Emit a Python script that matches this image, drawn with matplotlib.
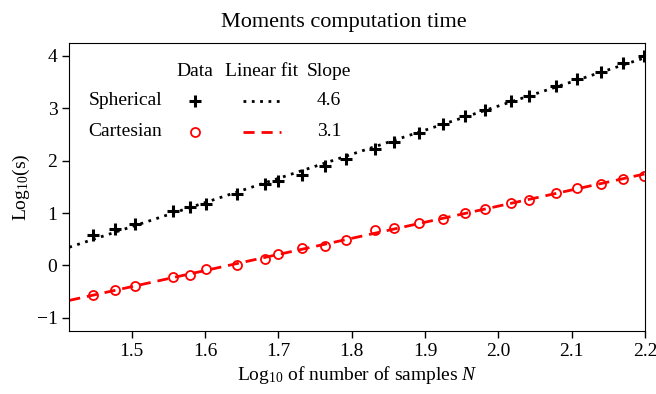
import numpy as np
import matplotlib
matplotlib.use("Agg")
import matplotlib.pyplot as plt

plt.rcParams['font.family'] = ['Liberation Serif', 'DejaVu Serif']
plt.rcParams['mathtext.fontset'] = 'custom'
plt.rcParams['mathtext.rm'] = 'Liberation Serif'
plt.rcParams['mathtext.it'] = 'Liberation Serif:italic'

# Number of samples N (x = log10 N)
n_samples = [28, 30, 32, 36, 38, 40, 44, 48, 50, 54, 58, 62, 68, 72, 78, 84,
             90, 96, 104, 110, 120, 128, 138, 148, 158]
# log10 of computation time (s)
spherical = [0.586, 0.700, 0.796, 1.031, 1.115, 1.172, 1.368, 1.559, 1.612,
             1.731, 1.903, 2.031, 2.227, 2.366, 2.538, 2.698, 2.844, 2.971,
             3.130, 3.239, 3.429, 3.557, 3.702, 3.863, 3.989]
cartesian = [-0.573, -0.477, -0.401, -0.221, -0.177, -0.069, 0.013, 0.128,
             0.223, 0.332, 0.376, 0.477, 0.668, 0.714, 0.809, 0.891, 1.000,
             1.082, 1.191, 1.254, 1.382, 1.477, 1.559, 1.649, 1.712]
row_labels = ["Spherical", "Cartesian"]
slope_labels = ["4.6", "3.1"]
col_headers = ["Data", "Linear fit", "Slope"]

x = np.log10(np.array(n_samples, dtype=float))
xlim = (1.415, 2.2)

fig = plt.figure(figsize=(6.56, 3.94), dpi=100)
ax = fig.add_axes([0.1056, 0.160, 0.8775, 0.730])

xx = np.array(xlim)
p_s = np.polyfit(x, spherical, 1)
p_c = np.polyfit(x, cartesian, 1)
ax.plot(xx, np.polyval(p_s, xx), color='black', ls=(0, (1, 2)), lw=2)
ax.plot(xx, np.polyval(p_c, xx), color='red', ls=(0, (4, 2.5)), lw=2)
ax.plot(x, spherical, ls='none', marker='+', color='black', ms=9, mew=2.2)
ax.plot(x, cartesian, ls='none', marker='o', mfc='none', mec='red', ms=6.5, mew=1.3)

ax.set_xlim(*xlim)
ax.set_ylim(-1.25, 4.24)
ax.set_xticks([1.5, 1.6, 1.7, 1.8, 1.9, 2.0, 2.1, 2.2])
ax.set_yticks([-1, 0, 1, 2, 3, 4])
ax.tick_params(labelsize=14, length=5, width=1)
ax.set_xlabel(r"Log$_{10}$ of number of samples $N$", fontsize=14, labelpad=3)
ax.set_ylabel(r"Log$_{10}$(s)", fontsize=14, labelpad=3)
ax.set_title("Moments computation time", fontsize=16, pad=12, x=0.4766)

# table-style legend
fs = 14
hx = [0.2177, 0.3337, 0.4515]
for h, xp in zip(col_headers, hx):
    ax.text(xp, 0.901, h, transform=ax.transAxes, ha='center', va='center', fontsize=fs)
rows_y = [0.800, 0.693]
for lab, yp in zip(row_labels, rows_y):
    ax.text(0.033, yp, lab, transform=ax.transAxes, ha='left', va='center', fontsize=fs)
for s, yp in zip(slope_labels, rows_y):
    ax.text(hx[2], yp, s, transform=ax.transAxes, ha='center', va='center', fontsize=fs)
ax.plot([hx[0]], [rows_y[0]], transform=ax.transAxes, marker='+', color='black', ms=9, mew=2.2)
ax.plot([hx[0]], [rows_y[1]], transform=ax.transAxes, marker='o', mfc='none', mec='red', ms=6.5, mew=1.3)
ax.plot([0.3013, 0.3679], [rows_y[0]] * 2, transform=ax.transAxes, color='black', ls=(0, (1, 2)), lw=2)
ax.plot([0.3013, 0.3679], [rows_y[1]] * 2, transform=ax.transAxes, color='red', ls=(0, (4, 2.5)), lw=2)

fig.savefig("out.png", dpi=100)
